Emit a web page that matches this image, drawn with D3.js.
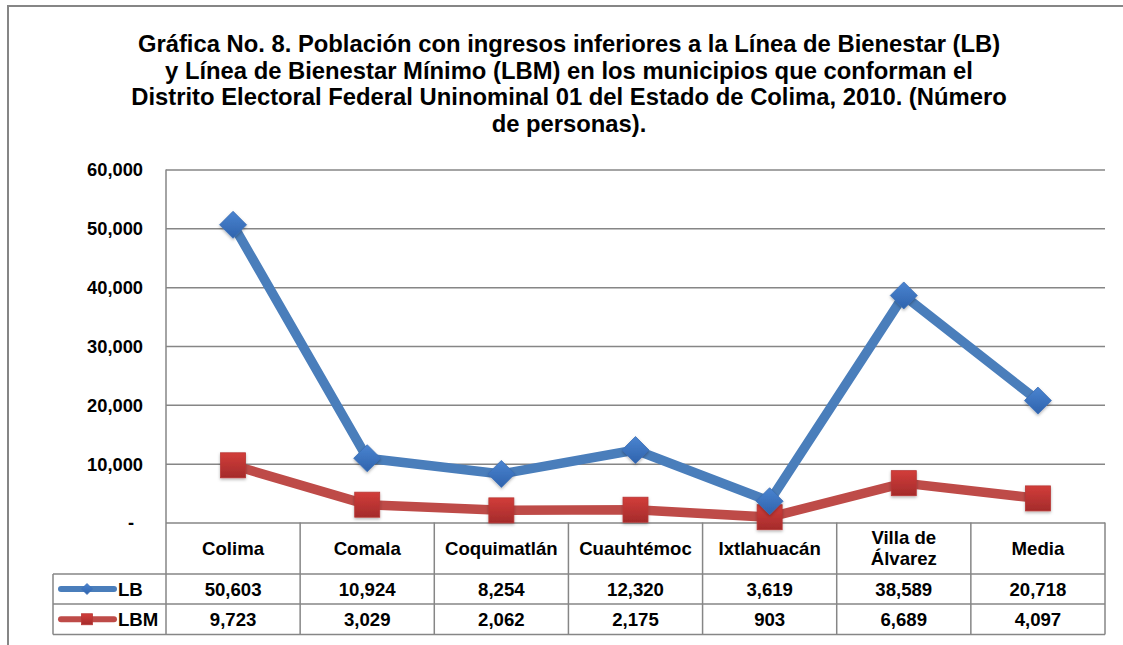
<!DOCTYPE html>
<head>
  <meta charset="utf-8">
  <style>
    body { margin:0; background:#fff; }
    text { font-family: Arial, "Liberation Sans", sans-serif; font-weight:bold; fill:#000; }
    .title { font-size:23.8px; }
    .ylab text { font-size:18.3px; }
    .cell { font-size:18.6px; }
  </style>
</head>
<body>
<script src="https://d3js.org/d3.v7.min.js"></script>
<script>

  // DATA
  var categories = ["Colima", "Comala", "Coquimatlán", "Cuauhtémoc", "Ixtlahuacán", "Villa de Álvarez", "Media"];
  var lbValues  = [50603, 10924, 8254, 12320, 3619, 38589, 20718];
  var lbmValues = [9723, 3029, 2062, 2175, 903, 6689, 4097];
  var yTicks = [0, 10000, 20000, 30000, 40000, 50000, 60000];
  var titleLines = [
    "Gráfica No. 8. Población con ingresos inferiores a la Línea de Bienestar (LB)",
    "y Línea de Bienestar Mínimo (LBM) en los municipios que conforman el",
    "Distrito Electoral Federal Uninominal 01 del Estado de Colima, 2010. (Número",
    "de personas)."
  ];

  var series = [
    { name: "LB",  values: lbValues,  line: "#4a7ebb", mark: "diamond" },
    { name: "LBM", values: lbmValues, line: "#be4b48", mark: "square" }
  ];

  // DIMENSIONS
  var width = 1123, height = 645;
  var plotL = 166, plotR = 1105, plotT = 169.5, plotB = 522.5;
  var rowY = [plotB, 574, 604, 634.5];
  var legendL = 53;
  var gridColor = "#868686";

  var svg = d3.select("body").append("svg")
    .attr("width", width)
    .attr("height", height);

  var defs = svg.append("defs");

  var gBlue = defs.append("linearGradient").attr("id", "gBlue")
    .attr("x1", 0).attr("y1", 0).attr("x2", 0).attr("y2", 1);
  gBlue.append("stop").attr("offset", "0%").attr("stop-color", "#4a84d0");
  gBlue.append("stop").attr("offset", "100%").attr("stop-color", "#2f63ad");

  var gRed = defs.append("linearGradient").attr("id", "gRed")
    .attr("x1", 0).attr("y1", 0).attr("x2", 0).attr("y2", 1);
  gRed.append("stop").attr("offset", "0%").attr("stop-color", "#d23d3a");
  gRed.append("stop").attr("offset", "100%").attr("stop-color", "#a42b2b");

  var shadow = defs.append("filter").attr("id", "shadow")
    .attr("x", "-50%").attr("y", "-50%").attr("width", "200%").attr("height", "200%");
  shadow.append("feDropShadow").attr("dx", 0).attr("dy", 1.5)
    .attr("stdDeviation", 1.5).attr("flood-color", "#000").attr("flood-opacity", 0.3);

  // OUTER FRAME
  svg.append("path")
    .attr("d", "M8,645 L8,6 L1123,6")
    .attr("fill", "none")
    .attr("stroke", gridColor)
    .attr("stroke-width", 2);

  // TITLE
  svg.append("text")
    .attr("class", "title")
    .attr("text-anchor", "middle")
    .selectAll("tspan")
    .data(titleLines)
    .enter().append("tspan")
      .attr("x", 569)
      .attr("y", (d, i) => 52 + i * 26.5)
      .text(d => d);

  // SCALES
  var x = d3.scaleBand().domain(categories).range([plotL, plotR]).padding(0);
  var cx = d => x(d) + x.bandwidth() / 2;
  var y = d3.scaleLinear().domain([0, 60000]).range([plotB, plotT]);

  // GRIDLINES
  svg.append("g")
    .attr("transform", "translate(" + plotL + ",0)")
    .call(d3.axisLeft(y).tickValues(yTicks).tickSize(-(plotR - plotL)).tickFormat(""))
    .call(g => g.select(".domain").remove())
    .call(g => g.selectAll("line").attr("stroke", gridColor).attr("stroke-width", 1.5));

  // Y LABELS
  svg.append("g")
    .attr("class", "ylab")
    .attr("transform", "translate(143,0)")
    .call(d3.axisLeft(y).tickValues(yTicks).tickSize(0).tickPadding(0)
      .tickFormat(d => d === 0 ? "-" : d3.format(",")(d)))
    .call(g => g.select(".domain").remove())
    .call(g => g.selectAll("text").attr("font-family", null).attr("font-size", null)
      .attr("dy", "0.35em").attr("x", d => d === 0 ? -9 : 0));

  // TABLE GRID
  var table = svg.append("g").attr("stroke", gridColor).attr("stroke-width", 1.5).attr("fill", "none");
  table.append("line").attr("x1", plotL).attr("x2", plotL).attr("y1", plotT).attr("y2", rowY[3]);
  rowY.slice(1).forEach(function(yy) {
    table.append("line").attr("x1", legendL).attr("x2", plotR).attr("y1", yy).attr("y2", yy);
  });
  table.append("line").attr("x1", legendL).attr("x2", legendL).attr("y1", rowY[1]).attr("y2", rowY[3]);
  categories.forEach(function(c) {
    table.append("line")
      .attr("x1", x(c) + x.bandwidth()).attr("x2", x(c) + x.bandwidth())
      .attr("y1", plotB).attr("y2", rowY[3]);
  });

  // CATEGORY LABELS
  svg.append("g").selectAll("text")
    .data(categories)
    .enter().append("text")
      .attr("class", "cell")
      .attr("text-anchor", "middle")
      .each(function(d) {
        var t = d3.select(this);
        var parts = d === "Villa de Álvarez" ? ["Villa de", "Álvarez"] : [d];
        parts.forEach(function(p, i) {
          t.append("tspan")
            .attr("x", cx(d))
            .attr("y", (plotB + rowY[1]) / 2 + 6.5 + (i - (parts.length - 1) / 2) * 21)
            .text(p);
        });
      });

  // TABLE VALUES
  series.forEach(function(s, si) {
    var rowMid = (rowY[si + 1] + rowY[si + 2]) / 2;
    svg.append("g").selectAll("text")
      .data(s.values)
      .enter().append("text")
        .attr("class", "cell")
        .attr("text-anchor", "middle")
        .attr("x", (d, i) => cx(categories[i]))
        .attr("y", rowMid + 6.8)
        .text(d => d3.format(",")(d));
  });

  // MARKER DRAWING
  function drawMarker(g, s, size) {
    if (s.mark === "diamond") {
      var h = size / 2;
      g.append("path")
        .attr("d", "M0," + (-h) + "L" + h + ",0L0," + h + "L" + (-h) + ",0Z")
        .attr("fill", "url(#gBlue)")
        .attr("stroke", "#3b6fb6").attr("stroke-width", 0.8);
    } else {
      g.append("rect")
        .attr("x", -size / 2).attr("y", -size / 2)
        .attr("width", size).attr("height", size)
        .attr("fill", "url(#gRed)")
        .attr("stroke", "#b83735").attr("stroke-width", 0.8);
    }
  }

  // LINES + MARKERS
  var line = d3.line()
    .x((d, i) => cx(categories[i]))
    .y(d => y(d));

  series.slice().reverse().forEach(function(s) {
    svg.append("path")
      .datum(s.values)
      .attr("fill", "none")
      .attr("stroke", s.line)
      .attr("stroke-width", 9.5)
      .attr("stroke-linejoin", "round")
      .attr("d", line);

    svg.append("g").selectAll("g")
      .data(s.values)
      .enter().append("g")
        .attr("transform", (d, i) => "translate(" + cx(categories[i]) + "," + y(d) + ")")
        .attr("filter", "url(#shadow)")
        .each(function() { drawMarker(d3.select(this), s, s.mark === "diamond" ? 27 : 25); });
  });

  // LEGEND KEYS
  series.forEach(function(s, si) {
    var rowMid = (rowY[si + 1] + rowY[si + 2]) / 2;
    svg.append("line")
      .attr("x1", 61).attr("x2", 114)
      .attr("y1", rowMid).attr("y2", rowMid)
      .attr("stroke", s.line)
      .attr("stroke-width", 6)
      .attr("stroke-linecap", "round");
    var g = svg.append("g").attr("transform", "translate(87," + rowMid + ")");
    drawMarker(g, s, 11);
    svg.append("text")
      .attr("class", "cell")
      .attr("x", 118)
      .attr("y", rowMid + 6.8)
      .text(s.name);
  });

</script>
</body>
